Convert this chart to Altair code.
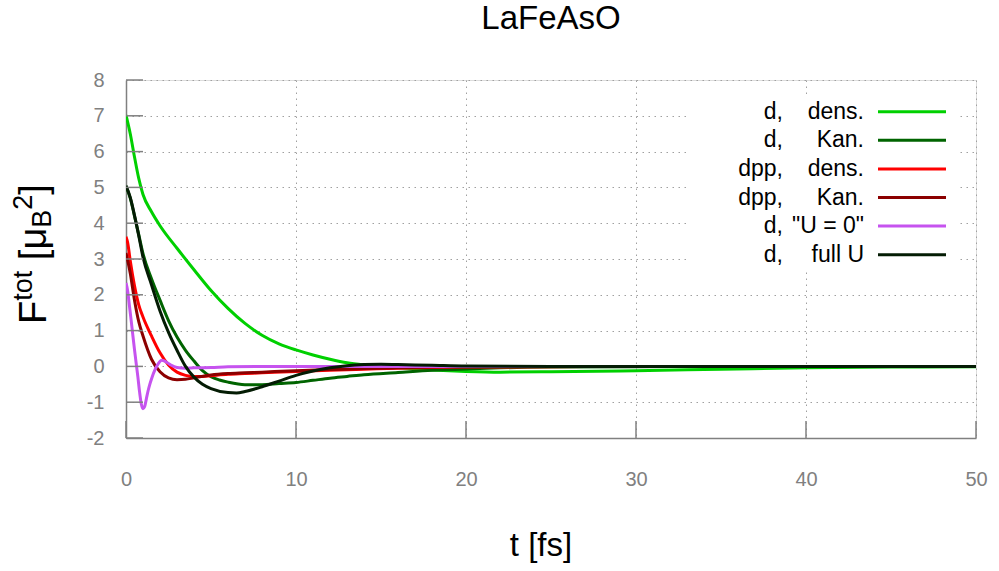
import altair as alt
import pandas as pd

# ---------------- data ----------------
series_names = ["d, dens.", "d, Kan.", "dpp, dens.", "dpp, Kan.", "d, U=0", "d, full U"]
legend_left = ["d,", "d,", "dpp,", "dpp,", "d,", "d,"]
legend_right = ["dens.", "Kan.", "dens.", "Kan.", "\"U = 0\"", "full U"]
colors = ["#00d000", "#006400", "#ff0000", "#8b0000", "#c653ef", "#041c04"]

t_d_dens = [0, 0.25, 0.5, 0.75, 1, 1.5, 2, 3, 4, 5, 6, 7, 8, 9, 10, 11, 12, 13, 14, 15, 16, 18, 20, 22, 25, 30, 35, 40, 45, 50]
v_d_dens = [7.02, 6.5, 5.85, 5.25, 4.8, 4.32, 3.93, 3.3, 2.7, 2.12, 1.62, 1.2, 0.87, 0.63, 0.46, 0.32, 0.2, 0.1, 0.04, 0.0, -0.04, -0.1, -0.14, -0.16, -0.15, -0.12, -0.08, -0.04, -0.02, -0.01]

t_d_kan = [0, 0.25, 0.5, 0.75, 1, 1.5, 2, 2.5, 3, 3.5, 4, 4.5, 5, 5.5, 6, 7, 8, 9, 10, 11, 12, 13, 14, 16, 18, 20, 22, 25, 30, 35, 40, 50]
v_d_kan = [5.04, 4.7, 4.2, 3.68, 3.15, 2.45, 1.85, 1.28, 0.82, 0.45, 0.15, -0.12, -0.29, -0.38, -0.44, -0.51, -0.51, -0.48, -0.45, -0.39, -0.33, -0.28, -0.23, -0.17, -0.11, -0.07, -0.04, -0.02, -0.01, 0.0, 0.0, 0.0]

t_dpp_dens = [0, 0.1, 0.25, 0.5, 0.75, 1, 1.5, 2, 2.5, 3, 3.5, 4, 4.5, 5, 6, 7, 8, 10, 12, 14, 16, 18, 20, 25, 30, 40, 50]
v_dpp_dens = [3.62, 3.45, 2.95, 2.25, 1.72, 1.38, 0.85, 0.38, 0.04, -0.16, -0.25, -0.28, -0.28, -0.26, -0.22, -0.2, -0.18, -0.14, -0.11, -0.08, -0.05, -0.03, -0.02, -0.01, 0.0, 0.0, 0.0]

t_dpp_kan = [0, 0.25, 0.5, 0.75, 1, 1.5, 2, 2.5, 3, 3.5, 4, 5, 6, 7, 8, 10, 12, 14, 16, 18, 20, 25, 30, 40, 50]
v_dpp_kan = [3.17, 2.6, 1.85, 1.25, 0.85, 0.2, -0.15, -0.32, -0.37, -0.36, -0.32, -0.24, -0.2, -0.18, -0.16, -0.12, -0.09, -0.06, -0.04, -0.02, -0.01, 0.0, 0.0, 0.0, 0.0]

t_d_u0 = [0, 0.1, 0.2, 0.3, 0.4, 0.5, 0.6, 0.7, 0.8, 0.9, 1.0, 1.1, 1.2, 1.3, 1.4, 1.5, 1.7, 1.9, 2.1, 2.3, 2.6, 3, 3.5, 4, 5, 6, 8, 10, 20, 30, 40, 50]
v_d_u0 = [2.33, 2.1, 1.7, 1.3, 0.88, 0.47, 0.08, -0.3, -0.72, -1.05, -1.18, -1.12, -0.9, -0.68, -0.5, -0.35, -0.1, 0.08, 0.17, 0.14, 0.05, -0.03, -0.05, -0.04, -0.03, -0.01, 0.0, 0.0, 0.0, 0.0, 0.0, 0.0]

t_d_full = [0, 0.25, 0.5, 0.75, 1, 1.5, 2, 2.5, 3, 3.5, 4, 4.5, 5, 6, 6.5, 7, 8, 9, 10, 11, 12, 13, 14, 15, 16, 18, 20, 25, 30, 40, 50]
v_d_full = [5.04, 4.72, 4.22, 3.65, 3.05, 2.28, 1.55, 0.95, 0.45, 0.0, -0.3, -0.5, -0.62, -0.73, -0.74, -0.7, -0.57, -0.41, -0.25, -0.13, -0.04, 0.02, 0.05, 0.06, 0.05, 0.03, 0.01, 0.0, 0.0, 0.0, 0.0]

x_ticks = [0, 10, 20, 30, 40, 50]
y_ticks = [-2, -1, 0, 1, 2, 3, 4, 5, 6, 7, 8]
title_text = ["LaFeAsO"]
x_title = ["t [fs]"]

FONT = "Liberation Sans"
W, H = 850, 358
GRAY = "#808080"

series_t = [t_d_dens, t_d_kan, t_dpp_dens, t_dpp_kan, t_d_u0, t_d_full]
series_v = [v_d_dens, v_d_kan, v_dpp_dens, v_dpp_kan, v_d_u0, v_d_full]

xscale = alt.Scale(domain=[0, 50], nice=False, zero=False)
yscale = alt.Scale(domain=[-2, 8], nice=False, zero=False)

x_axis = alt.Axis(
    values=x_ticks, ticks=False, labelFontSize=20, labelColor=GRAY, labelFont=FONT,
    labelPadding=31, labelFlush=False, labelExpr="'' + datum.value", domainColor=GRAY, domainWidth=1.5,
    grid=True, gridDash=[1.5, 4.5], gridColor="#a0a0a0", gridWidth=1, title=None)
y_axis = alt.Axis(
    values=y_ticks, ticks=False, labelFontSize=20, labelColor=GRAY, labelFont=FONT,
    labelPadding=22, labelFlush=False, labelExpr="'' + datum.value", domainColor=GRAY, domainWidth=1.5,
    grid=True, gridDash=[1.5, 4.5], gridColor="#a0a0a0", gridWidth=1, title=None)

layers = []

for i, (tt, vv) in enumerate(zip(series_t, series_v)):
    df = pd.DataFrame({"t": tt, "v": vv, "series": series_names[i]})
    yenc = alt.Y("v:Q", scale=yscale, axis=y_axis if i == 0 else None)
    layers.append(
        alt.Chart(df).mark_line(strokeWidth=3, interpolate="monotone", clip=True).encode(
            x=alt.X("t:Q", scale=xscale, axis=x_axis), y=yenc,
            color=alt.Color("series:N", scale=alt.Scale(domain=series_names, range=colors), legend=None),
        )
    )

# inward ticks
ytick_df = pd.DataFrame({"v": y_ticks})
layers.append(alt.Chart(ytick_df).mark_rule(color=GRAY, strokeWidth=1.5).encode(
    y=alt.Y("v:Q", scale=yscale, axis=None), x=alt.value(0), x2=alt.value(17)))
xtick_df = pd.DataFrame({"t": x_ticks})
layers.append(alt.Chart(xtick_df).mark_rule(color=GRAY, strokeWidth=1.5).encode(
    x=alt.X("t:Q", scale=xscale, axis=x_axis), y=alt.value(H), y2=alt.value(H - 17)))

# legend (box, labels, samples)
leg_df = pd.DataFrame({"name": series_names, "l": legend_left, "r": legend_right})
leg_y = alt.Y("name:N", sort=series_names, scale=alt.Scale(type="point", range=[31.7, 174.7], padding=0), axis=None)
layers.append(alt.Chart(pd.DataFrame({"a": [0]})).mark_rect(color="white").encode(
    x=alt.value(560), x2=alt.value(832), y=alt.value(17), y2=alt.value(190)))
layers.append(alt.Chart(leg_df).mark_text(align="right", baseline="middle", fontSize=23, font=FONT, color="black").encode(
    text="l:N", y=leg_y, x=alt.value(657)))
layers.append(alt.Chart(leg_df).mark_text(align="right", baseline="middle", fontSize=23, font=FONT, color="black").encode(
    text="r:N", y=leg_y, x=alt.value(738)))
layers.append(alt.Chart(leg_df).mark_rule(strokeWidth=3).encode(
    y=leg_y, x=alt.value(752), x2=alt.value(820),
    color=alt.Color("name:N", scale=alt.Scale(domain=series_names, range=colors), legend=None)))

# titles
layers.append(alt.Chart(pd.DataFrame({"s": title_text})).mark_text(
    align="center", baseline="alphabetic", fontSize=33, font=FONT, color="black").encode(
    text="s:N", x=alt.value(425), y=alt.value(-51)))
layers.append(alt.Chart(pd.DataFrame({"s": x_title})).mark_text(
    align="center", baseline="alphabetic", fontSize=33, font=FONT, color="black").encode(
    text="s:N", x=alt.value(415), y=alt.value(476)))

# rotated y title pieces: F^tot [mu_B^2]
ytitle_parts = [
    ("F", 38, -80, 244),
    ("tot", 27, -94, 220.8),
    ("[", 38, -80, 180.2),
    ("\u03bc", 38, -80, 169.6),
    ("B", 27, -75, 147.7),
    ("2", 27, -94, 129.7),
    ("]", 38, -80, 114.7),
]
for txt, fs, px, py in ytitle_parts:
    layers.append(alt.Chart(pd.DataFrame({"s": [txt]})).mark_text(
        align="left", baseline="alphabetic", angle=270, fontSize=fs, font=FONT, color="black").encode(
        text="s:N", x=alt.value(px), y=alt.value(py)))

chart = alt.layer(*layers).resolve_scale(y="independent", color="independent").properties(
    width=W, height=H, autosize="none",
    padding={"left": 126, "top": 80, "right": 23, "bottom": 133},
).configure_view(stroke=None).configure(background="white")

chart.save("out.html", embed_options={"renderer": "svg", "actions": False})
